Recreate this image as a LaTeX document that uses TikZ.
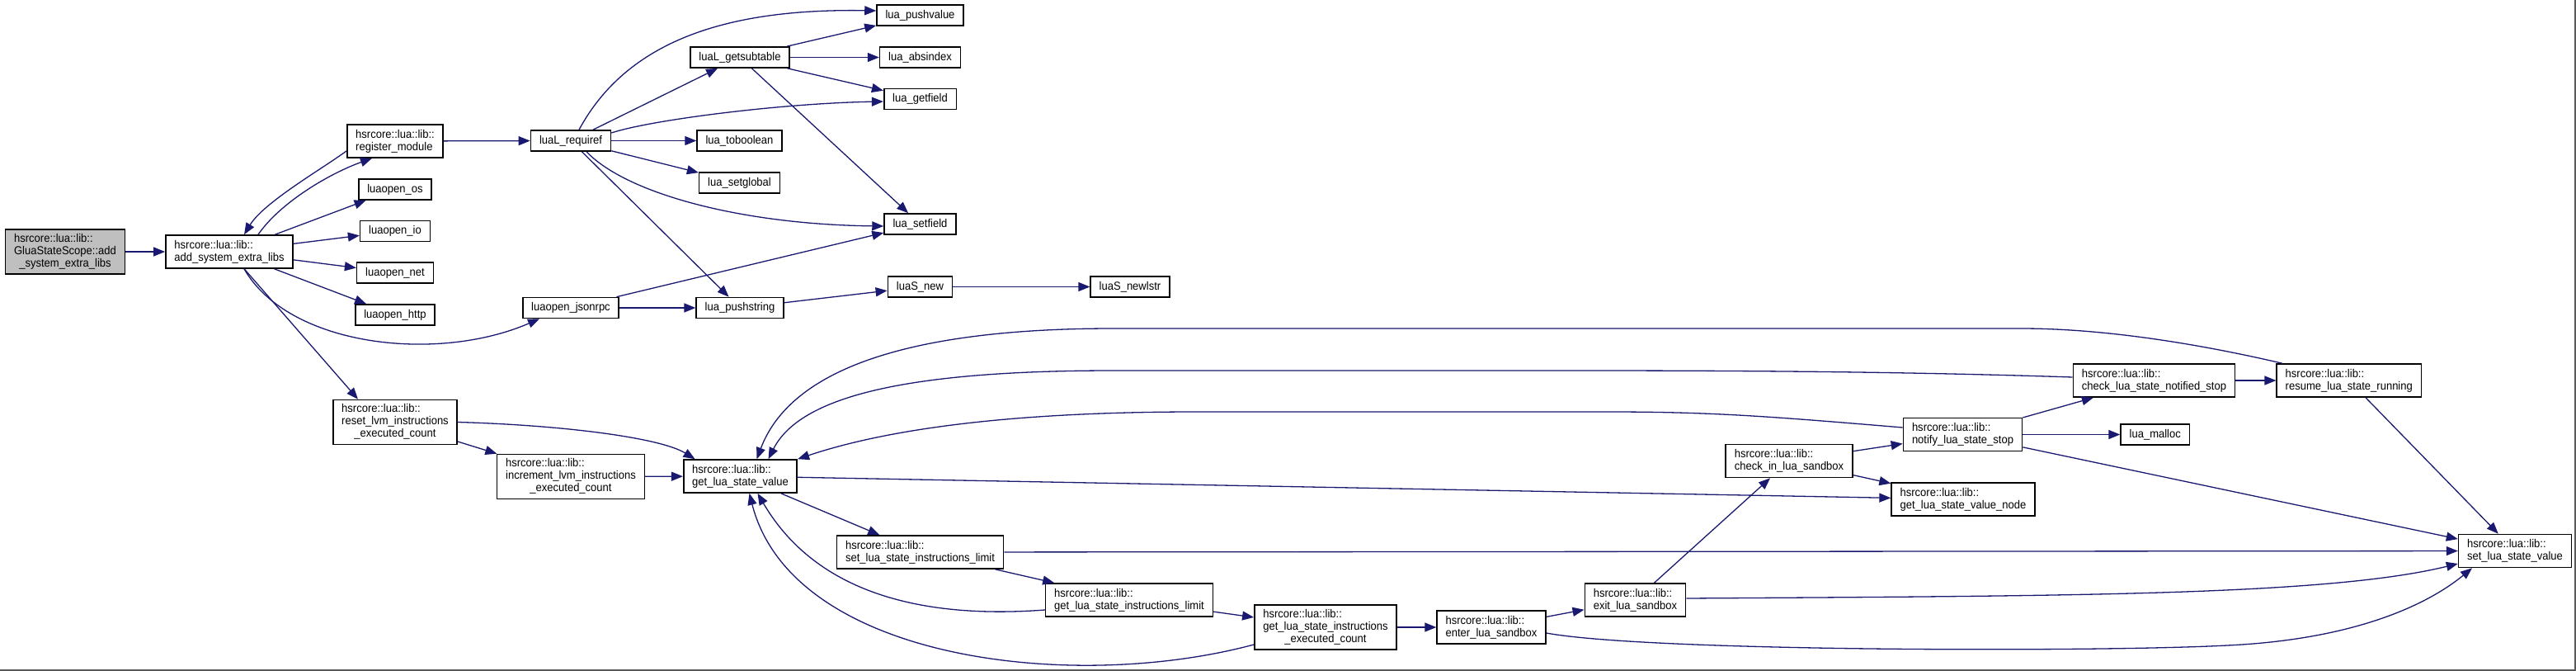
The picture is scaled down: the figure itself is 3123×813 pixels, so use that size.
\documentclass[tikz,border=0pt]{standalone}
\usepackage{fontspec}
\setmainfont{Liberation Sans}[FakeStretch=0.93]
\usetikzlibrary{arrows.meta,positioning}
\definecolor{DoxyEdge}{RGB}{25,25,112}
\definecolor{DoxyGray}{RGB}{191,191,191}
\newcommand{\threeln}[3]{\begin{tabular}{@{}l@{}}#1\\#2\\\multicolumn{1}{@{}c@{}}{#3}\end{tabular}}

\begin{document}
\begin{tikzpicture}[x=1pt,y=-1pt,>={Triangle[length=14pt,width=11pt]},
  fn/.style={draw,line width=1.6pt,fill=white,inner xsep=10.5pt,inner ysep=2pt,minimum height=25pt,font=\fontsize{14}{15}\selectfont},
  two/.style={fn,align=left,minimum height=40pt},
  three/.style={fn,minimum height=54pt},
  call/.style={->,draw=DoxyEdge,line width=1.3pt}]
\useasboundingbox (0,0) rectangle (3123,813);

% left part: the module loader
\node[three,fill=DoxyGray] (glua) at (79,305) {\threeln{hsrcore::lua::lib::}{GluaStateScope::add}{\_system\_extra\_libs}};
\node[two] (addlibs) at (278,305) {hsrcore::lua::lib::\\add\_system\_extra\_libs};
\node[two] (regmod) at (479,171) {hsrcore::lua::lib::\\register\_module};
\node[fn] (luaos) at (479,229.5) {luaopen\_os};
\node[fn] (luaio) at (479,280) {luaopen\_io};
\node[fn] (luanet) at (479,330.5) {luaopen\_net};
\node[fn] (luahttp) at (479,381.5) {luaopen\_http};
\node[fn] (requiref) at (692,170.5) {luaL\_requiref};
\node[fn] (jsonrpc) at (692,373) {luaopen\_jsonrpc};
\node[fn] (getsub) at (897,69.5) {luaL\_getsubtable};
\node[fn] (tobool) at (896.5,170.5) {lua\_toboolean};
\node[fn] (setglb) at (896.5,221.5) {lua\_setglobal};
\node[fn] (pushstr) at (897,373) {lua\_pushstring};
\node[fn] (pushval) at (1115.5,18.5) {lua\_pushvalue};
\node[fn] (absidx) at (1115.5,69.5) {lua\_absindex};
\node[fn] (getfld) at (1115.5,120) {lua\_getfield};
\node[fn] (setfld) at (1115.5,271.5) {lua\_setfield};
\node[fn] (snew) at (1115.5,347.5) {luaS\_new};
\node[fn,right=166pt of snew] (newlstr) {luaS\_newlstr};

% lower part: the state values
\node[three] (resetcnt) at (479,511.5) {\threeln{hsrcore::lua::lib::}{reset\_lvm\_instructions}{\_executed\_count}};
\node[three] (incrcnt) at (692,577.5) {\threeln{hsrcore::lua::lib::}{increment\_lvm\_instructions}{\_executed\_count}};
\node[two] (getval) at (897.5,577) {hsrcore::lua::lib::\\get\_lua\_state\_value};
\node[two] (setlimit) at (1115.5,669) {hsrcore::lua::lib::\\set\_lua\_state\_instructions\_limit};
\node[two] (getlimit) at (1369,727) {hsrcore::lua::lib::\\get\_lua\_state\_instructions\_limit};
\node[three] (getexec) at (1607,760) {\threeln{hsrcore::lua::lib::}{get\_lua\_state\_instructions}{\_executed\_count}};
\node[two] (enterbox) at (1808,760) {hsrcore::lua::lib::\\enter\_lua\_sandbox};
\node[two] (exitbox) at (1982.5,727) {hsrcore::lua::lib::\\exit\_lua\_sandbox};
\node[two] (checkin) at (2169,558.5) {hsrcore::lua::lib::\\check\_in\_lua\_sandbox};
\node[two] (notify) at (2379.5,526.5) {hsrcore::lua::lib::\\notify\_lua\_state\_stop};
\node[two] (valnode) at (2380,605) {hsrcore::lua::lib::\\get\_lua\_state\_value\_node};
\node[fn,right=118pt of notify] (malloc) {lua\_malloc};
\node[two] (notified) at (2611.5,461) {hsrcore::lua::lib::\\check\_lua\_state\_notified\_stop};
\node[two,right=49pt of notified] (resume) {hsrcore::lua::lib::\\resume\_lua\_state\_running};
\node[two] (setval) at (3049,667.5) {hsrcore::lua::lib::\\set\_lua\_state\_value};

% calls
\draw[call] (glua) -- (addlibs);
\draw[call] ([xshift=35pt]addlibs.north) .. controls (340,245) and (400,210) .. ([xshift=-28pt]regmod.south);
\draw[call] ([yshift=-12pt]regmod.west) .. controls (390,205) and (320,245) .. ([xshift=18pt]addlibs.north);
\foreach \t in {luaos,luaio,luanet,luahttp} \draw[call] (addlibs) -- (\t);
\draw[call] ([xshift=18pt]addlibs.south) .. controls (350,420) and (530,440) .. ([xshift=-38pt]jsonrpc.south);
\draw[call] (addlibs) -- ([xshift=-45pt]resetcnt.north);
\draw[call] (regmod) -- (requiref);
\draw[call] ([xshift=10pt]requiref.north) .. controls (760,50) and (880,10) .. ([yshift=5.5pt]pushval.west);
\foreach \t in {getsub,tobool,setglb,pushstr} \draw[call] (requiref) -- (\t);
\draw[call] ([yshift=9.5pt]requiref.east) .. controls (790,145) and (950,125) .. ([yshift=-3pt]getfld.west);
\draw[call] ([xshift=19pt]requiref.south) .. controls (760,235) and (900,272) .. ([yshift=-2.5pt]setfld.west);
\foreach \t in {pushval,absidx,getfld,setfld} \draw[call] (getsub) -- (\t);
\draw[call] (jsonrpc) -- (setfld);
\draw[call] (jsonrpc) -- (pushstr);
\draw[call] (pushstr) -- (snew);
\draw[call] (snew) -- (newlstr);

\draw[call] (resetcnt.east) .. controls (680,515) and (800,530) .. ([xshift=-55pt]getval.north);
\draw[call] (resetcnt) -- (incrcnt);
\draw[call] (incrcnt) -- (getval);
\draw[call] (getval) -- (valnode);
\draw[call] (getval) -- (setlimit);
\draw[call] (setlimit) -- (setval);
\draw[call] (setlimit) -- (getlimit);
\draw[call] ([yshift=-12pt]getlimit.west) .. controls (1120,750) and (990,720) .. ([xshift=21pt]getval.south);
\draw[call] (getlimit) -- (getexec);
\draw[call] ([yshift=-21pt]getexec.west) .. controls (1300,840) and (960,800) .. ([xshift=11pt]getval.south);
\draw[call] (getexec) -- (enterbox);
\draw[call] (enterbox) -- (exitbox);
\draw[call] ([yshift=-7pt]enterbox.east) .. controls (2000,790) and (2550,790) .. (2700,782) .. controls (2850,775) and (2940,735) .. ([xshift=-52pt]setval.south);
\draw[call] ([yshift=2pt]exitbox.east) .. controls (2500,722) and (2820,722) .. ([yshift=-15.5pt]setval.west);
\draw[call] (exitbox) -- (checkin);
\draw[call] (checkin) -- (notify);
\draw[call] (checkin) -- (valnode);
\draw[call] (notify) -- (notified);
\draw[call] (notify) -- (malloc);
\draw[call] (notify) -- (setval);
\draw[call] ([yshift=8.5pt]notify.west) .. controls (2150,505) and (2080,499) .. (1950,499) -- (1450,499) .. controls (1200,499) and (1060,525) .. (getval.north east);
\draw[call] (notified) -- (resume);
\draw[call] ([yshift=4pt]notified.west) .. controls (2300,450) and (2100,449) .. (1900,449) -- (1350,449) .. controls (1100,449) and (970,480) .. ([xshift=34pt]getval.north);
\draw[call] (resume) -- (setval);
\draw[call] ([xshift=-81pt]resume.north) .. controls (2680,420) and (2560,398) .. (2450,398) -- (1350,398) .. controls (1050,398) and (950,470) .. ([xshift=20pt]getval.north);

% frame
\draw[gray!70!black,line width=2pt] (3122,0) -- (3122,812) -- (0,812);
\end{tikzpicture}
\end{document}
